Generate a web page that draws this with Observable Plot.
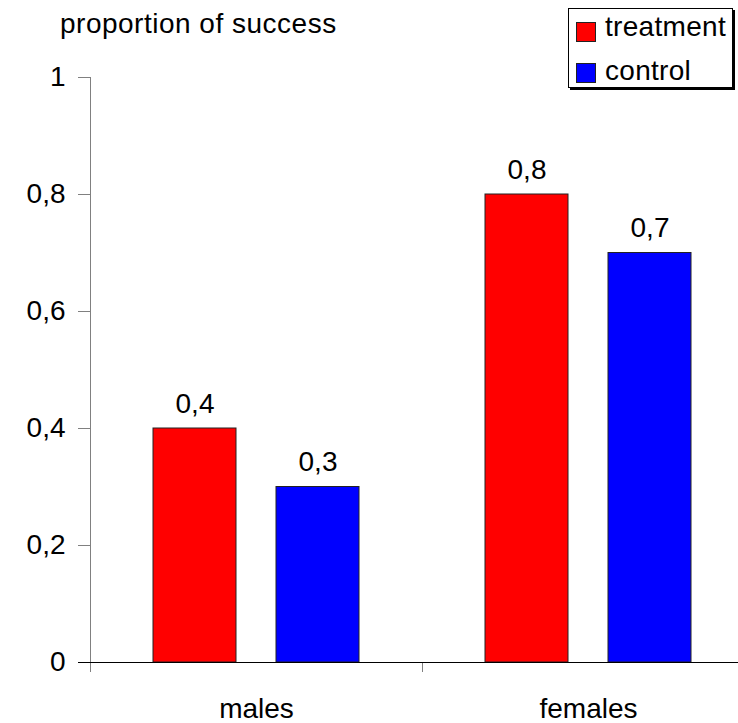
<!DOCTYPE html>
<html>
<head>
<meta charset="utf-8">
<script src="https://cdn.jsdelivr.net/npm/d3@7"></script>
<script src="https://cdn.jsdelivr.net/npm/@observablehq/plot@0.6"></script>
<style>
  html, body { margin: 0; padding: 0; background: #fff; overflow: hidden; }
  body { font-family: "Liberation Sans", Arial, sans-serif; }
  #wrap { position: relative; width: 738px; height: 723px; overflow: hidden; }
  #title { position: absolute; left: 60px; top: 10px; font-size: 28px; line-height: 28px; letter-spacing: 0.5px; white-space: nowrap; color: #000; }
  #legend { position: absolute; left: 568px; top: 8px; width: 163px; height: 78px; border: 1px solid #000; box-shadow: 2px 2px 0 #000; background: #fff; }
  .sw { position: absolute; left: 7px; width: 18px; height: 18px; border: 1px solid #222; }
  .lt { position: absolute; left: 36px; font-size: 28px; line-height: 28px; letter-spacing: 0.3px; white-space: nowrap; color: #000; }
  #chart { position: absolute; left: 0; top: 0; }
</style>
</head>
<body>
<div id="wrap">
  <div id="chart"></div>
  <div id="title">proportion of success</div>
  <div id="legend"></div>
</div>
<script>
const groups = ["males", "females"];
const series = ["treatment", "control"];
const treatment = [0.4, 0.8];
const control = [0.3, 0.7];
const colors = ["#ff0000", "#0000ff"];
const yTicks = [0, 0.2, 0.4, 0.6, 0.8, 1];
const yTickLabels = ["0", "0,2", "0,4", "0,6", "0,8", "1"];
const valueLabel = v => String(v).replace(".", ",");

const rows = groups.flatMap((g, i) => [
  {group: g, series: "treatment", value: treatment[i]},
  {group: g, series: "control", value: control[i]}
]);

const W = 738, H = 723, mL = 90, mR = -16, mT = 77, mB = 61;
const half = (W - mL - mR) / groups.length / 2;

const chart = Plot.plot({
  width: W, height: H,
  marginTop: mT, marginBottom: mB, marginLeft: mL, marginRight: mR,
  style: {fontFamily: "'Liberation Sans', Arial, sans-serif", fontSize: "28px", color: "black", background: "transparent"},
  fx: {domain: groups, padding: 0, axis: null, label: null},
  x: {domain: series, paddingInner: 40 / 124, paddingOuter: 0.5, axis: null},
  y: {domain: [0, 1], axis: null},
  color: {domain: series, range: colors},
  marks: [
    Plot.barY(rows, {fx: "group", x: "series", y: "value", fill: "series", stroke: "#222", strokeWidth: 1}),
    Plot.text(rows, {fx: "group", x: "series", y: "value", text: d => valueLabel(d.value), lineAnchor: "bottom", dy: -16, fontSize: 28, fill: "black"}),
    // y axis line
    Plot.ruleX(["males"], {fx: d => d, x: null, dx: -half, stroke: "#808080"}),
    // y ticks (gray) and labels
    Plot.axisY(yTicks, {color: "#808080", tickSize: 12, tickFormat: () => "", label: null}),
    Plot.axisY(yTicks, {color: "black", tickSize: 0, tickPadding: 25, tickFormat: d => yTickLabels[yTicks.indexOf(d)], fontSize: 28, label: null}),
    // category boundary ticks
    Plot.ruleX(groups, {fx: d => d, x: null, insetTop: H - mT - mB, insetBottom: -10, dx: -half, stroke: "#808080"}),
    // baseline
    Plot.ruleY(groups, {fx: d => d, y: 0, stroke: "black"}),
    Plot.ruleY(["males"], {fx: d => d, y: 0, insetLeft: -12, stroke: "black"}),
    // category labels
    Plot.text(groups, {fx: d => d, text: d => d, frameAnchor: "bottom", lineAnchor: "top", dy: 36, fontSize: 28, fill: "black"})
  ]
});
document.getElementById("chart").appendChild(chart);

// legend
const legend = document.getElementById("legend");
const swTops = [13, 54];
const txtTops = [4, 48];
series.forEach((s, i) => {
  const sw = document.createElement("div");
  sw.className = "sw";
  sw.style.top = swTops[i] + "px";
  sw.style.background = colors[i];
  legend.appendChild(sw);
  const t = document.createElement("div");
  t.className = "lt";
  t.style.top = txtTops[i] + "px";
  t.textContent = s;
  legend.appendChild(t);
});
</script>
</body>
</html>
